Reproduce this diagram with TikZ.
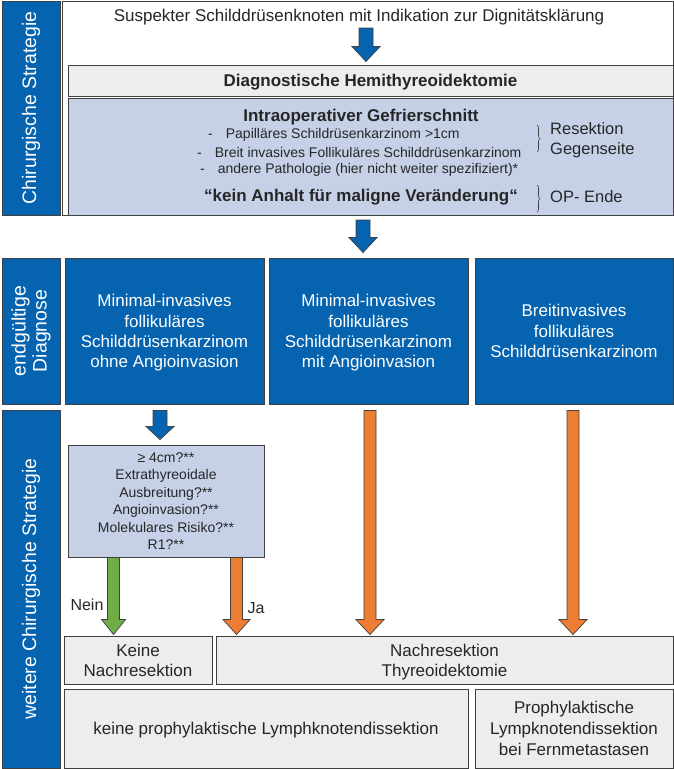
\documentclass[tikz,border=0pt]{standalone}
\usepackage{fontspec}
\setmainfont{Liberation Sans}
\usepackage{tikz}
\usetikzlibrary{calc,decorations.pathreplacing}

\definecolor{opblue}{HTML}{0563AF}
\definecolor{lightop}{HTML}{C6D1E8}
\definecolor{boxgray}{HTML}{EDEDED}
\definecolor{edgegray}{HTML}{404040}
\definecolor{txtgray}{HTML}{262626}
\definecolor{jaorange}{HTML}{ED7D31}
\definecolor{neingreen}{HTML}{70AD47}

\tikzset{
  boxline/.style={draw=edgegray, line width=0.9pt},
  bar/.style={boxline, fill=opblue, text=white, rotate=90, align=center, inner sep=0pt,
    font=\fontsize{19.5}{21}\selectfont},
  plainbox/.style={boxline, fill=white, inner sep=0pt},
  graybox/.style={boxline, fill=boxgray, text=txtgray, align=center, inner sep=0pt, text depth=0pt,
    font=\fontsize{17}{20}\selectfont},
  palebox/.style={boxline, fill=lightop, text=txtgray, align=center, inner sep=0pt},
  diagbox/.style={boxline, fill=opblue, text=white, align=center, inner sep=0pt, text depth=0pt,
    minimum width=199, minimum height=146, font=\fontsize{17}{20.3}\selectfont},
  txt/.style={text=txtgray, inner sep=0pt},
  small/.style={txt, anchor=west, font=\fontsize{14}{17}\selectfont},
  sidebrace/.style={draw=edgegray, line width=0.6pt, decorate, decoration={brace, amplitude=3pt}},
  fatedge/.style={draw=edgegray, line width=0.7pt}
}

% block arrow: colour, half shaft, half head, head length, from, to
\newcommand{\fatarrow}[6]{%
  \draw[fatedge, fill=#1] let \p1=#5, \p2=#6 in
    (\x1-#2,\y1) -- (\x1-#2,\y2+#4) -- (\x1-#3,\y2+#4) -- (\x1,\y2)
    -- (\x1+#3,\y2+#4) -- (\x1+#2,\y2+#4) -- (\x1+#2,\y1) -- cycle;}

\begin{document}
\begin{tikzpicture}[x=1pt, y=-1pt]
  \useasboundingbox (0,0) rectangle (674,769);

  % first stage
  \node[bar, minimum width=214, minimum height=58] (barop) at (31,108) {Chirurgische Strategie};
  \node[plainbox, minimum width=611, minimum height=214] (topframe) at (367.5,108) {};
  \node[txt, font=\fontsize{17}{20}\selectfont] (susp) at (359,17)
    {Suspekter Schilddrüsenknoten mit Indikation zur Dignitätsklärung};
  \node[graybox, minimum width=605, minimum height=31, font=\fontsize{17}{20}\selectfont\bfseries]
    (diag) at (370.5,80.5) {Diagnostische Hemithyreoidektomie};
  \node[palebox, minimum width=605, minimum height=117] (gefrier) at (370.5,156.5) {};

  % frozen section
  \node[txt, font=\fontsize{17}{20}\selectfont\bfseries] (gtitle) at (361,117) {Intraoperativer Gefrierschnitt};
  \node[small] (gpap) at (208,135) {-\hspace{13pt}Papilläres Schildrüsenkarzinom >1cm};
  \node[small] (gbreit) at (197,152) {-\hspace{13pt}Breit invasives Follikuläres Schilddrüsenkarzinom};
  \node[small] (gander) at (200,170) {-\hspace{13pt}andere Pathologie (hier nicht weiter spezifiziert)*};
  \node[txt, font=\fontsize{17}{20}\selectfont\bfseries] (gkein) at (361,197)
    {“kein Anhalt für maligne Veränderung“};
  \draw[sidebrace] (537,125) -- (537,152);
  \draw[sidebrace] (537,185) -- (537,212);
  \node[txt, anchor=west, align=left, font=\fontsize{16.5}{20}\selectfont] (gres) at (550,140)
    {Resektion\\Gegenseite};
  \node[txt, anchor=west, font=\fontsize{16.5}{20}\selectfont] (gende) at (550,197) {OP- Ende};

  % final diagnosis
  \node[bar, minimum width=146, minimum height=58] (bardiag) at (31,331) {endgültige\\Diagnose};
  \node[diagbox] (dxohne) at (164.5,331)
    {Minimal-invasives\\follikuläres\\Schilddrüsenkarzinom\\ohne Angioinvasion};
  \node[diagbox] (dxmit) at (368.5,331)
    {Minimal-invasives\\follikuläres\\Schilddrüsenkarzinom\\mit Angioinvasion};
  \node[diagbox, minimum width=198] (dxbreit) at (574,331)
    {Breitinvasives\\follikuläres\\Schilddrüsenkarzinom};

  % further strategy
  \node[bar, minimum width=358, minimum height=58] (barweiter) at (31,589) {weitere Chirurgische Strategie};
  \node[palebox, minimum width=196, minimum height=112, font=\fontsize{14}{17.5}\selectfont] (risiko) at (166,501)
    {≥ 4cm?**\\Extrathyreoidale\\Ausbreitung?**\\Angioinvasion?**\\Molekulares Risiko?**\\R1?**};
  \node[graybox, minimum width=148, minimum height=48] (keinenach) at (138,660) {Keine\\Nachresektion};
  \node[graybox, minimum width=457, minimum height=48] (nachres) at (444.5,660) {Nachresektion\\Thyreoidektomie};
  \node[graybox, minimum width=404, minimum height=79] (lymphno) at (266,728.5)
    {keine prophylaktische Lymphknotendissektion};
  \node[graybox, minimum width=198, minimum height=79, font=\fontsize{17}{21}\selectfont] (lymphpro) at (574,728.5)
    {Prophylaktische\\Lympknotendissektion\\bei Fernmetastasen};
  \node[txt, font=\fontsize{16}{19}\selectfont] (nein) at (87,605) {Nein};
  \node[txt, font=\fontsize{16}{19}\selectfont] (ja) at (256,608) {Ja};

  % arrows
  \coordinate (a1) at (366,28);
  \coordinate (a2) at (363,220);
  \coordinate (a3) at ($(dxohne.south)+(-4.5,6)$);
  \coordinate (a4) at ($(risiko.south west)+(46,0)$);
  \coordinate (a5) at ($(risiko.south west)+(169,0)$);
  \coordinate (a6) at ($(dxmit.south)+(1.5,6)$);
  \coordinate (a7) at ($(dxbreit.south)+(-1,6)$);
  \fatarrow{opblue}{7pt}{14pt}{15pt}{(a1)}{($(a1 |- diag.north)+(0,-3)$)}
  \fatarrow{opblue}{7pt}{14pt}{15pt}{(a2)}{($(a2 |- dxmit.north)+(0,-5)$)}
  \fatarrow{opblue}{7pt}{14pt}{13pt}{(a3)}{($(a3 |- risiko.north)+(0,-5)$)}
  \fatarrow{neingreen}{6pt}{12pt}{15pt}{(a4)}{($(a4 |- keinenach.north)+(0,-1)$)}
  \fatarrow{jaorange}{6pt}{13.5pt}{15pt}{(a5)}{($(a5 |- nachres.north)+(0,-1)$)}
  \fatarrow{jaorange}{6pt}{14pt}{15pt}{(a6)}{($(a6 |- nachres.north)+(0,-1)$)}
  \fatarrow{jaorange}{6pt}{14pt}{15pt}{(a7)}{($(a7 |- nachres.north)+(0,-1)$)}
\end{tikzpicture}
\end{document}
